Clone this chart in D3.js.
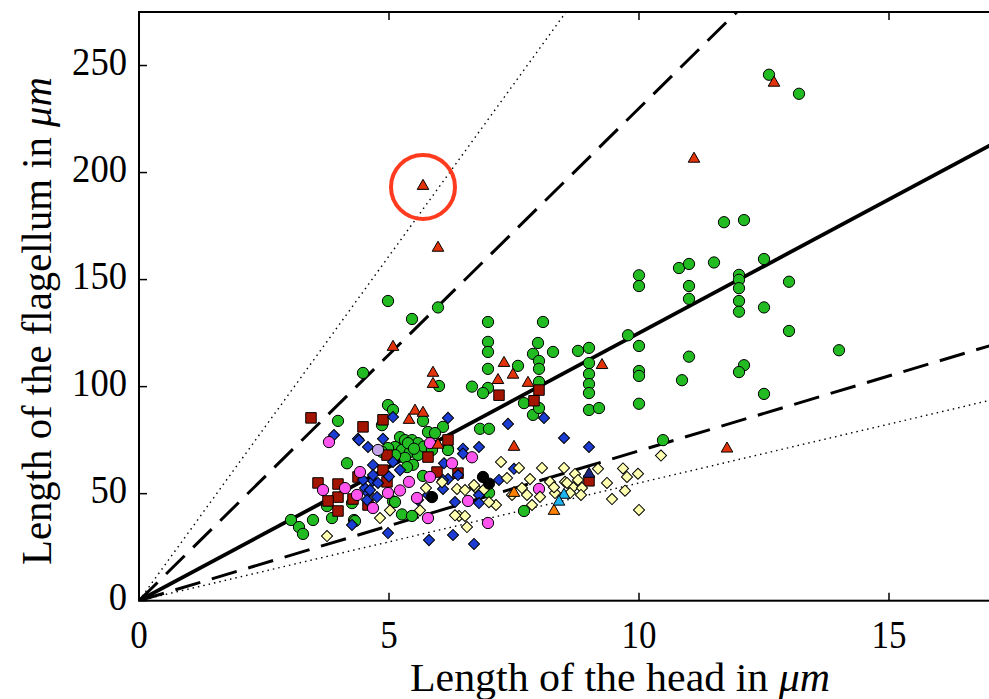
<!DOCTYPE html>
<html><head><meta charset="utf-8">
<script src="https://cdn.jsdelivr.net/npm/d3@7"></script>
<style>body{margin:0;background:#fff}svg{display:block}</style>
</head><body>
<svg id="c" width="989" height="699"></svg>
<script>
// ---------- data ----------
const xTicks = [0, 5, 10, 15];
const yTicks = [0, 50, 100, 150, 200, 250];
const xLabel = "Length of the head in ";
const yLabel = "Length of the flagellum in ";
const unitLabel = "μm";

// reference lines through the origin (slopes)
const refSlopes = [32.2, 23, 12.5, 7, 5.5];
const refKinds = ["dotted", "dashed", "solid", "dashed", "dotted"];

const greenCircles = [
 [12.6,245.7],[13.2,236.8],[11.7,176.8],[12.1,177.8],
 [4.98,140],[5.46,131.6],[5.98,137],[4.48,106.4],[6.0,100.3],[6.66,100],[7.58,109.7],
 [6.98,130.2],[6.98,120.9],[6.98,116.2],[6.98,108.3],[6.98,99.4],
 [8.08,130.2],[7.98,120.4],[7.88,115.3],[8.0,112],[8.0,108.3],[8.0,102.2],[8.28,116.2],
 [8.78,116.7],[9.0,118.1],[9.0,111],[9.0,105.9],[9.0,101.2],[9.0,97],
 [9.78,124],[10,152],[10,147],[10,119],[10,107.3],[10,105],
 [10.8,155.4],[11.0,157.3],[11.0,147],[11.0,141],[11.0,114],[10.86,103],
 [11.5,158],[12.5,159.6],[12.0,152.2],[12.0,149.9],[12.0,146],[12.0,140],[12.0,135],
 [13.0,149],[12.5,137],[13.0,126],[14.0,117],[12.1,110],[12.0,106.8],[12.5,96.6],
 [10,92],[10.48,75],
 [6.88,97],[9.0,89.1],[9.2,90],[7.7,92.3],[7.88,86.8],[8.0,90],[6.08,81.2],[6.82,80.3],[7.0,80.3],[6.18,70.9],
 [7.0,50.4],[7.7,41.9],
 [4.98,91.4],[5.08,89.1],[4.86,82],[5.68,84],[5.78,78.8],[5.92,78.3],[3.98,84],
 [5.22,76.4],[5.32,75],[5.46,75],[5.58,73.6],[5.12,71.8],[5.26,70.4],[5.42,69.5],[5.58,68.1],
 [5.32,66.7],[5.12,68],[4.98,71.3],[4.86,69.5],[5.48,63.5],[5.38,73.6],[5.7,72],[5.5,71],
 [5.86,70.4],[6.18,70.4],
 [4.16,64.2],[5.36,62.4],
 [5.68,58.3],[5.08,46.4],[5.26,40.3],[5.46,39.6],[4.3,37.7],
 [3.76,44.2],[4.26,45.6],[3.86,38.6],[3.48,37.7],[3.04,37.7],[3.2,34.4],[3.28,31.2],[4.32,37.2],[5.12,46.1]
];
const redSquares = [
 [3.44,85.4],[4.48,81.2],[4.88,84.5],[8.0,98.4],[7.2,96],[7.9,93.4],[6.18,75.1],[6.38,59.6],
 [4.96,68],[5.78,67.1],[4.88,61],[4.96,55.5],[4.38,57.8],[5.96,60.1],[4.58,44.7],
 [3.58,55],[3.98,54.5],[3.98,48.4],[3.78,46.6],[3.98,41.9],[4.28,47.5],[9.0,56]
];
const blueDiamonds = [
 [9.0,71.8],[8.1,85.4],[7.38,82.6],[6.18,85.4],[8.5,76],[6.48,71],[6.8,71.8],[6.48,68.7],
 [7.5,61.6],[6.1,64.2],[6.18,56.8],[6.38,58.7],[6.08,52.2],[6.8,49.4],[6.8,45.6],[7.2,56.4],
 [6.28,30.7],[5.8,28.3],[6.7,26.5],
 [5.08,85.8],[4.38,75.6],[4.58,71.8],[4.88,75.6],[5.08,64.8],[4.68,63.4],[5.22,61],[5.58,47],
 [5.78,49.4],[6.08,56.4],[4.98,31.6],[6.32,46.1],[4.52,52.6],[4.68,56],[4.58,50.3],[4.26,35.4],
 [3.9,77.4],[4.4,75],[4.48,56.4],[4.68,58.7],[4.78,55],[4.62,51.7],[4.76,48.4],[4.56,47],[5.0,58]
];
const magentaCircles = [
 [6.66,67],[6.26,64.2],[6.58,46.6],[8.0,52.2],[6.98,36.3],[5.82,73.6],[5.4,55.5],[5.22,51.5],
 [5.82,57.8],[5.78,38.6],[4.68,43.3],[4.42,60.1],[3.68,51.7],[4.12,52.6],[3.8,74.1],[4.98,50.3],
 [5.56,48],[4.36,49.4]
];
const yellowDiamonds = [
 [10.44,67.8],[9.68,61.8],[9.76,57.8],[9.98,59.3],[9.72,51.4],[10,42.4],[8.5,62],[9.18,61.6],
 [9.36,55],[9.46,47.5],[8.72,59.2],[8.52,55.5],[8.78,56.4],[8.68,53],[8.86,52.7],[8.84,49.4],[8.62,50.3],
 [7.24,64.8],[7.6,62],[8.06,62],[7.36,57.3],[7.82,56.8],[8.22,55.5],[8.56,55],[6.36,52.2],[6.52,51.7],
 [6.72,53],[7.46,49.4],[7.66,52.6],[7.76,49.4],[8.02,48.5],[8.32,50.3],[7.14,44.7],[7.86,44.7],
 [6.4,39.6],[6.52,39.6],[6.56,34.4],
 [6.06,55.4],[5.62,42.2],[5.02,42.2],[4.82,38.6],[6.32,39.9],[5.74,52.6],[3.76,30.2],[6.7,54],[8.3,53],[7.0,46],[6.9,52]
];
const blackCircles = [[6.88,57.8],[7.0,54.7],[5.86,48.4]];
const redTriangles = [
 [12.7,241.9],[11.1,206.4],[5.68,193.7],[5.98,164.8],[5.08,118.5],[5.88,106.4],[5.88,101.2],
 [7.3,111],[7.18,103],[7.48,105.5],[7.78,101.7],[9.26,110],[11.76,71],[7.5,71.8],
 [5.52,88.7],[5.68,87.7],[5.4,84.4],[5.98,72.8]
];
const orangeTriangles = [[7.5,50.3],[8.3,41.9]];
const cyanTriangles = [[8.5,49.4],[8.4,46.2]];
const navyTriangles = [[9.0,59.2]];
const lavenderCircles = [[4.78,70.4]];
const highlighted = [5.68,193.7];

// ---------- layout ----------
const m = {left:139, right:990, top:12, bottom:600.7};
const x = d3.scaleLinear().domain([0,17]).range([m.left, m.left + 17*50]);
const y = d3.scaleLinear().domain([0,275]).range([m.bottom, m.top]);
const svg = d3.select("#c");
const FONT = "'Liberation Serif','DejaVu Serif',serif";

svg.append("defs").append("clipPath").attr("id","clip")
  .append("rect").attr("x",m.left).attr("y",m.top)
  .attr("width",m.right-m.left).attr("height",m.bottom-m.top);

const plot = svg.append("g").attr("clip-path","url(#clip)");

// reference lines
const dashFor = {solid:null, dashed:"26,12", dotted:"1.5,4"};
const widthFor = {solid:3.8, dashed:3, dotted:1.4};
refSlopes.forEach((s,i)=>{
  const k = refKinds[i];
  plot.append("line")
    .attr("x1",x(0)).attr("y1",y(0))
    .attr("x2",x(17.1)).attr("y2",y(17.1*s))
    .attr("stroke","#000").attr("stroke-width",widthFor[k])
    .attr("stroke-dasharray",dashFor[k]);
});

function series(data, type, size, fill, rot){
  const sym = d3.symbol().type(type).size(size);
  plot.append("g").selectAll("path").data(data).join("path")
    .attr("d", sym)
    .attr("transform", d=>`translate(${x(d[0])},${y(d[1])})${rot?` rotate(${rot})`:""}`)
    .attr("fill", fill).attr("stroke","#000").attr("stroke-width",1);
}
series(greenCircles, d3.symbolCircle, 100, "#22bb22");
series(redSquares, d3.symbolSquare, 110, "#a31500");
series(blueDiamonds, d3.symbolSquare, 62, "#1c3dd4", 45);
series(magentaCircles, d3.symbolCircle, 100, "#ff55ee");
series(lavenderCircles, d3.symbolCircle, 100, "#c4a6e8");
series(yellowDiamonds, d3.symbolSquare, 62, "#ffffb0", 45);
series(blackCircles, d3.symbolCircle, 100, "#000000");
series(redTriangles, d3.symbolTriangle, 58, "#e2330a");
series(orangeTriangles, d3.symbolTriangle, 58, "#ff8000");
series(cyanTriangles, d3.symbolTriangle, 58, "#1eb4f0");
series(navyTriangles, d3.symbolTriangle, 58, "#1a237e");

// highlight circle
svg.append("circle").attr("cx",x(highlighted[0])).attr("cy",y(highlighted[1])+1)
  .attr("r",32).attr("fill","none").attr("stroke","#ff3b1f").attr("stroke-width",4);

// frame
svg.append("rect").attr("x",m.left).attr("y",m.top)
  .attr("width",m.right-m.left).attr("height",m.bottom-m.top)
  .attr("fill","none").attr("stroke","#000").attr("stroke-width",2);

// ticks (inward)
const TL = 8;
xTicks.forEach(t=>{
  svg.append("line").attr("x1",x(t)).attr("x2",x(t)).attr("y1",m.bottom).attr("y2",m.bottom-TL).attr("stroke","#000").attr("stroke-width",1.5);
  svg.append("line").attr("x1",x(t)).attr("x2",x(t)).attr("y1",m.top).attr("y2",m.top+TL).attr("stroke","#000").attr("stroke-width",1.5);
});
yTicks.forEach(t=>{
  svg.append("line").attr("x1",m.left).attr("x2",m.left+TL).attr("y1",y(t)).attr("y2",y(t)).attr("stroke","#000").attr("stroke-width",1.5);
});

// tick labels
svg.append("g").selectAll("text").data(xTicks).join("text")
  .attr("x",d=>x(d)).attr("y",648).attr("text-anchor","middle")
  .attr("font-family",FONT).attr("font-size",39)
  .attr("textLength",d=>String(d).length*17.5).attr("lengthAdjust","spacingAndGlyphs")
  .text(d=>d);
svg.append("g").selectAll("text").data(yTicks).join("text")
  .attr("x",127).attr("y",d=>y(d)+9.5).attr("text-anchor","end")
  .attr("font-family",FONT).attr("font-size",41)
  .attr("textLength",d=>String(d).length*18.3).attr("lengthAdjust","spacingAndGlyphs")
  .text(d=>d);

// axis labels
const xl = svg.append("text").attr("x",620).attr("y",690.6).attr("text-anchor","middle")
  .attr("font-family",FONT).attr("font-size",39)
  .attr("textLength",420).attr("lengthAdjust","spacingAndGlyphs");
xl.append("tspan").text(xLabel);
xl.append("tspan").attr("font-style","italic").text(unitLabel);

const yl = svg.append("text").attr("transform","translate(51,321) rotate(-90)").attr("text-anchor","middle")
  .attr("font-family",FONT).attr("font-size",42)
  .attr("textLength",488).attr("lengthAdjust","spacingAndGlyphs");
yl.append("tspan").text(yLabel);
yl.append("tspan").attr("font-style","italic").text(unitLabel);
</script>
</body></html>
